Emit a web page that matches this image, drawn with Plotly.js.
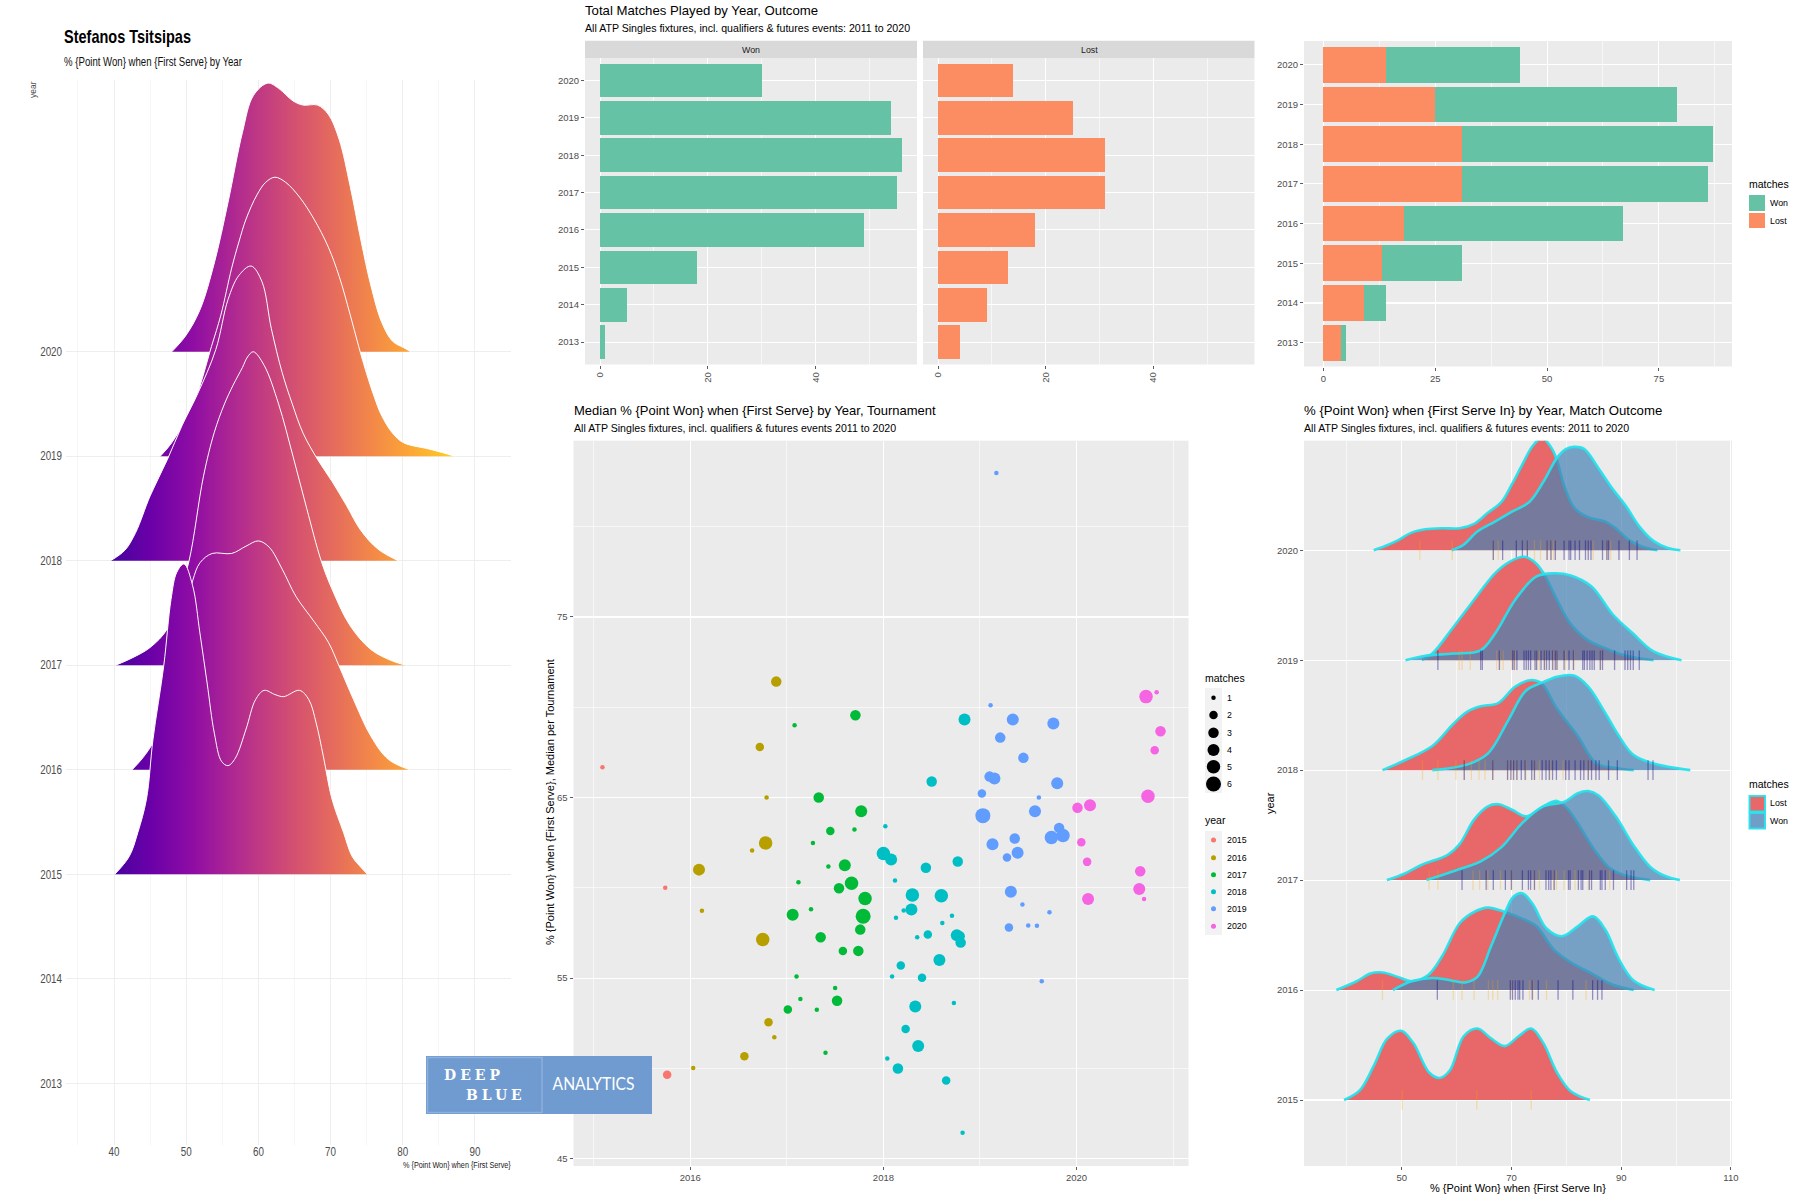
<!DOCTYPE html>
<html><head><meta charset="utf-8">
<script src="https://cdn.plot.ly/plotly-3.0.1.min.js"></script>
<style>html,body{margin:0;padding:0;background:#fff}</style></head>
<body><div id="chart" style="width:1800px;height:1200px"></div>
<script>
// ---------- bars ----------
const years=[2013,2014,2015,2016,2017,2018,2019,2020];
const wonMatches=[1,5,18,49,55,56,54,30];
const lostMatches=[4,9,13,18,31,31,25,14];

// ---------- ridgeline panel A: x, height above baseline (year units) ----------
const a2020x=[48,49.9,51.9,53.9,55.8,57.8,59.3,61.3,62.8,64.8,66.2,68.2,69.7,71.2,72.7,74.2,75.6,77.1,78.6,80.1,81.1];
const a2020h=[0,.15,.40,.85,1.43,2.10,2.45,2.57,2.52,2.40,2.36,2.36,2.27,2.03,1.59,1.07,.63,.28,.10,.04,0];
const a2019x=[46.4,48,51,53.5,54.8,56.3,57.3,58.3,59.8,61,62.3,63.8,65.7,67.7,69.7,71.2,72.7,73.9,75,76.1,77,78.6,80.1,83.6,85.5,87.2];
const a2019h=[0,.13,.5,1.05,1.35,1.8,2.05,2.27,2.5,2.62,2.67,2.62,2.48,2.27,2.0,1.72,1.36,1.05,.79,.56,.40,.22,.13,.07,.035,0];
const a2018x=[39.5,41.5,43,45,47.4,49.4,51.6,54.1,55.8,57.3,59,60.5,61.8,63.3,64.7,66.2,68.2,70.2,72.2,74.2,76.6,79.4];
const a2018h=[0,.1,.27,.62,.97,1.29,1.6,2.02,2.5,2.73,2.82,2.67,2.22,1.8,1.5,1.22,.97,.76,.53,.29,.11,0];
const a2017x=[40.2,42.5,45,47.4,48.9,50.4,52.4,53.9,55.3,56.5,57.8,58.5,59.3,60.8,62.8,64.8,66.7,68.7,70.2,72.7,75.6,78.6,80.5];
const a2017h=[0,.07,.17,.35,.66,1.0,1.81,2.23,2.5,2.68,2.85,2.95,3.0,2.87,2.5,2.0,1.5,1.0,.73,.38,.15,.04,0];
const a2016x=[42.5,44,45.4,47,48.5,49.8,50.9,51.9,53.6,56.3,58.3,60,61.5,63.3,65.2,67.7,69.7,71.2,73.2,75.6,78,81];
const a2016h=[0,.115,.26,.55,.95,1.5,1.81,1.98,2.07,2.07,2.14,2.19,2.13,1.92,1.66,1.42,1.22,.99,.67,.32,.1,0];
const a2015x=[40.1,42.1,43.3,44.5,45.4,46.9,47.9,48.7,49.7,50.9,51.9,52.9,53.9,54.9,55.8,56.8,58.3,59.6,60.8,62.3,63.5,65.7,67,68,69,70.2,71.8,73,74.3,75.1];
const a2015h=[0,.17,.40,.72,1.29,2.0,2.63,2.89,2.97,2.76,2.31,1.83,1.35,1.08,1.04,1.11,1.39,1.67,1.76,1.72,1.70,1.76,1.67,1.45,1.13,.72,.40,.17,.06,0];
const plasma=[[0,'#0d0887'],[.1,'#41049d'],[.2,'#6a00a8'],[.3,'#8f0da4'],[.4,'#b12a90'],[.5,'#cc4778'],[.6,'#e16462'],[.7,'#f1844b'],[.8,'#fca636'],[.9,'#fcce25'],[1,'#f0f921']];

// ---------- scatter panel D ----------
const d2015x=[2015.09,2015.74,2015.76], d2015y=[66.68,60.0,49.65], d2015m=[1,1,2];
const d2016x=[2016.89,2016.72,2016.79,2016.78,2016.64,2016.09,2016.12,2016.75,2016.81,2016.87,2016.56,2016.03];
const d2016y=[71.42,67.80,65.0,62.49,62.07,61.01,58.73,57.14,52.56,51.73,50.68,50.02];
const d2016m=[3,2,1,5,1,4,1,5,2,1,2,1];
const d2017x=[2017.71,2017.08,2017.33,2017.77,2017.45,2017.70,2017.27,2017.60,2017.43,2017.12,2017.67,2017.54,2017.81,2017.25,2017.06,2017.79,2017.76,2017.35,2017.58,2017.74,2017.10,2017.50,2017.14,2017.52,2017.01,2017.31,2017.40];
const d2017y=[69.56,69.0,65.0,64.24,63.15,63.23,62.49,61.25,61.18,60.31,60.26,59.98,59.41,58.82,58.51,58.43,57.69,57.27,56.51,56.51,55.09,54.45,53.84,53.75,53.27,53.25,50.87];
const d2017m=[3,1,3,4,2,1,1,4,1,1,5,3,5,1,4,6,3,3,2,3,1,1,1,3,2,1,1];
const d2018x=[2018.84,2018.50,2018.02,2018.00,2018.08,2018.77,2018.44,2018.12,2018.30,2018.60,2018.29,2018.21,2018.13,2018.71,2018.61,2018.46,2018.35,2018.76,2018.79,2018.80,2018.58,2018.18,2018.09,2018.40,2018.33,2018.73,2018.23,2018.36,2018.04,2018.15,2018.65,2018.82];
const d2018y=[69.32,65.89,63.41,61.90,61.57,61.46,61.11,60.41,59.61,59.56,58.80,58.75,58.34,58.45,58.06,57.42,57.27,57.38,57.32,56.97,56.0,55.70,55.09,55.02,53.43,53.62,52.18,51.24,50.55,50.0,49.34,46.44];
const d2018m=[4,3,1,5,4,3,3,1,5,5,4,1,1,1,1,2,1,4,3,3,4,2,1,2,4,1,2,4,1,3,2,1];
const d2019x=[2019.17,2019.11,2019.34,2019.76,2019.21,2019.45,2019.10,2019.15,2019.80,2019.02,2019.61,2019.03,2019.57,2019.82,2019.86,2019.74,2019.36,2019.13,2019.39,2019.28,2019.32,2019.44,2019.72,2019.30,2019.50,2019.59,2019.64];
const d2019y=[82.97,70.11,69.32,69.10,68.32,67.20,66.16,66.05,65.79,65.22,65.0,64.0,64.24,63.32,62.90,62.79,62.73,62.42,61.94,61.68,59.78,59.08,58.65,57.80,57.91,57.90,54.83];
const d2019m=[1,1,4,4,3,3,3,4,4,2,1,6,4,3,5,5,3,4,4,2,4,1,1,2,1,1,1];
const d2020x=[2020.72,2020.83,2020.87,2020.81,2020.74,2020.14,2020.01,2020.05,2020.11,2020.66,2020.65,2020.12,2020.70];
const d2020y=[70.59,70.83,68.67,67.62,65.07,64.58,64.43,62.53,61.44,60.92,59.94,59.39,59.39];
const d2020m=[5,1,3,2,5,4,3,2,2,3,4,4,1];
const matchSizes=[0,4.5,8.5,10.5,12,13.5,15];
const yearColors=['#F8766D','#B79F00','#00BA38','#00BFC4','#619CFF','#F564E3'];

// ---------- ridgeline panel E ----------
const eL2020x=[44.9,47.1,49.3,51.8,54.3,57.5,60.6,63.2,65.7,68.2,70.1,72,73.9,75.6,77.3,78.3,79.6,81.4,84,87.1,89,91.5,94,96.6];
const eL2020h=[0,.04,.09,.16,.19,.20,.20,.24,.34,.44,.60,.78,.95,1.02,.93,.82,.59,.39,.30,.26,.20,.09,.03,0];
const eW2020x=[59.1,61.3,63.8,67,70.1,73.3,75.8,78.3,79.9,81.4,83.3,85.8,88.4,90.9,93.4,96,98.5,100.8];
const eW2020h=[0,.05,.17,.26,.35,.44,.62,.84,.92,.94,.92,.75,.56,.40,.21,.08,.02,0];
const eL2019x=[53.7,55.6,59.4,63.2,67,69.5,72.3,74.5,76.1,78.3,80.8,84,87.1,90.9,95.9];
const eL2019h=[0,.06,.30,.55,.79,.89,.94,.88,.77,.55,.33,.18,.11,.04,0];
const eW2019x=[50.7,54.3,59.4,64.4,67,70.7,74.5,77.7,80.8,84.6,88.4,92.2,95.9,101];
const eW2019h=[0,.04,.06,.09,.24,.55,.76,.79,.77,.67,.42,.24,.08,0];
const eL2018x=[46.5,50.6,55.6,59.4,61.9,64.4,67.6,70.7,73.6,75.5,78.3,82.1,85.5,89,92.3];
const eL2018h=[0,.09,.22,.42,.53,.58,.61,.76,.82,.79,.56,.31,.06,.02,0];
const eW2018x=[55.6,61.9,65.7,69.5,72.6,75.8,78.3,81.4,84,87.1,89.6,92.2,95.9,102.6];
const eW2018h=[0,.05,.15,.46,.72,.80,.85,.86,.76,.52,.31,.14,.06,0];
const eL2017x=[47.3,50.6,53.7,58.4,60.6,63.2,65.7,67.6,70.1,72.7,75.8,78.3,80.2,82.7,85.2,87.7,90.3,95.3];
const eL2017h=[0,.06,.14,.23,.33,.55,.67,.69,.64,.58,.67,.72,.65,.47,.27,.12,.05,0];
const eW2017x=[54.5,60,64.4,68.2,72,75.8,79.6,82.1,84,85.9,89,92.2,95.3,97.9,100.7];
const eW2017h=[0,.09,.17,.30,.52,.67,.71,.79,.81,.77,.58,.32,.12,.04,0];
const eL2016x=[38.1,41.8,44.3,46.5,49.3,51.8,54.9,57.4,60.6,63.2,65.7,68.8,72,74.6,77.7,80.9,84.7,88.4,92.3];
const eL2016h=[0,.08,.15,.16,.12,.08,.14,.31,.61,.71,.75,.71,.65,.58,.37,.25,.15,.05,0];
const eW2016x=[48.4,51.8,55.6,58.8,61.6,63.8,66.3,68.8,70.4,72,73.9,76.4,79.2,82.1,84.9,87.1,89.6,92.2,96.1];
const eW2016h=[0,.08,.11,.09,.07,.12,.40,.70,.85,.88,.78,.56,.49,.58,.67,.55,.28,.09,0];
const eL2015x=[39.5,42.4,44.9,47.4,49.9,52.1,55,56.9,58.8,61.3,63.8,66.3,68.8,71.3,73.6,75.8,78.3,80.8,84.3];
const eL2015h=[0,.09,.31,.56,.63,.52,.25,.20,.27,.58,.65,.56,.49,.58,.65,.52,.25,.08,0];

// rug values
const rW2020=[66.7,68.4,70.9,72,72.9,76.5,77.2,78,79.6,80.5,80.8,81.6,82.4,83.5,84,84.5,86.6,87.4,87.7,89.6,91.5,92.9];
const rL2020=[53.3,59.2,66.7,67.6,72.9,74.2,75.3,76.5,77.3,77.7,84.9,87.4,88.1];
const rW2019=[56.6,64.4,64.7,67.8,70.2,70.5,71,72.3,72.7,73.1,73.5,74.3,74.6,75.4,76,76.4,76.9,77.5,78,78.3,79.6,80.5,81.3,83,83.3,83.8,84.3,84.7,85.1,86.2,86.6,88.8,90.7,91.2,91.7,92.2,93.3];
const rL2019=[60.5,61,62.5,67.3,67.9,68.5,70.1,70.7,74.5,75.1,76.1,77.7,78.3,79.9,81.4,86.2];
const rW2018=[61.4,66.6,69.3,69.9,70.4,71,71.8,72.5,73.7,74.2,75.6,76.3,76.9,77.5,78.2,79.9,80.5,81.6,82.6,83.2,84,84.6,85.4,86,87.7,89.3,94.9,95.8];
const rL2018=[53.8,56.6,59.9,61.4,62.7,64.1,65.2,66.6,69.3,70.1,71,72.6,74.2,75.1,77,79.4,84];
const rW2017=[61,65.4,66.7,68.9,70,72,73.1,73.5,74.2,76.3,76.8,77.2,77.8,80.4,80.7,82.2,82.7,83,84.2,84.6,86.2,86.5,87.1,88.6,91,91.8,92.3];
const rL2017=[55,56.6,63,64.2,65.7,68,70,74.2,75.1,77.7,78.2,79.6,81.6,84,87.9];
const rW2016=[56.5,69.8,70.2,70.7,71.2,71.5,72.1,73.8,74.9,78.5,81.2,84.8,85.7,86.5];
const rL2016=[46.5,59.4,61,63.2,65.8,66.6,67.5,70.1,73.3,73.9,76.4,83.6];
const rL2015=[50.1,63.7,73.6];

// ---------- helpers ----------
const W=1800,H=1200;
const FN='Liberation Sans', GREY='#4D4D4D';
const px=x=>x/W, py=y=>1-y/H;
const domX=(a,b)=>[a/W,b/W], domY=(t,b)=>[1-b/H,1-t/H];
const won='#66C2A5', lost='#FC8D62';
const traces=[];
function gg(extra){return Object.assign({showgrid:true,gridcolor:'#FFFFFF',gridwidth:1.1,zeroline:false,showline:false,
  ticks:'outside',ticklen:3,tickwidth:.8,tickcolor:'#333333',tickfont:{family:FN,size:9.5,color:GREY},fixedrange:true},extra);}
function minor(vals,col){return {tickmode:'array',tickvals:vals,showgrid:true,gridcolor:col||'#FFFFFF',gridwidth:.6,ticks:''};}

function ridgeA(x,h,yr){traces.push({type:'scatter',mode:'lines',xaxis:'x',yaxis:'y',x:x,y:h.map(v=>yr+v),
  line:{color:'#FFFFFF',width:1,shape:'spline',smoothing:1},fill:'toself',
  fillgradient:{type:'horizontal',colorscale:plasma,start:33,stop:93},hoverinfo:'skip'});}
[[a2020x,a2020h,2020],[a2019x,a2019h,2019],[a2018x,a2018h,2018],[a2017x,a2017h,2017],[a2016x,a2016h,2016],[a2015x,a2015h,2015]].forEach(r=>ridgeA(...r));

traces.push({type:'bar',orientation:'h',x:wonMatches,y:years,width:.9,xaxis:'x2',yaxis:'y2',marker:{color:won},name:'Won'});
traces.push({type:'bar',orientation:'h',x:lostMatches,y:years,width:.9,xaxis:'x3',yaxis:'y3',marker:{color:lost},name:'Lost'});
traces.push({type:'bar',orientation:'h',x:lostMatches,y:years,width:.9,xaxis:'x4',yaxis:'y4',marker:{color:lost},name:'Lost'});
traces.push({type:'bar',orientation:'h',x:wonMatches,y:years,width:.9,xaxis:'x4',yaxis:'y4',marker:{color:won},name:'Won'});

[[d2015x,d2015y,d2015m],[d2016x,d2016y,d2016m],[d2017x,d2017y,d2017m],[d2018x,d2018y,d2018m],[d2019x,d2019y,d2019m],[d2020x,d2020y,d2020m]].forEach((s,i)=>{
  traces.push({type:'scatter',mode:'markers',xaxis:'x5',yaxis:'y5',x:s[0],y:s[1],name:String(2015+i),
    marker:{color:yearColors[i],opacity:1,size:s[2].map(m=>matchSizes[m]),line:{width:0}}});
});

const CY='rgba(38,226,236,0.95)';
function ridgeE(x,h,yr,col){traces.push({type:'scatter',mode:'lines',xaxis:'x6',yaxis:'y6',x:x,y:h.map(v=>yr+v),
  line:{color:CY,width:2.6,shape:'spline',smoothing:1},fill:'toself',fillcolor:col});}
const LF='rgba(232,104,106,1)', WF='rgba(70,130,180,0.7)';
function rug(v,yr,col){traces.push({type:'scatter',mode:'markers',xaxis:'x6',yaxis:'y6',x:v,y:v.map(()=>yr),
  marker:{symbol:'line-ns',opacity:1,size:14,line:{color:col,width:1.3},color:col}});}
const RW='rgba(20,10,130,0.42)', RL='rgba(255,165,0,0.28)';
[[eL2020x,eL2020h,eW2020x,eW2020h,2020,rL2020,rW2020],[eL2019x,eL2019h,eW2019x,eW2019h,2019,rL2019,rW2019],
 [eL2018x,eL2018h,eW2018x,eW2018h,2018,rL2018,rW2018],[eL2017x,eL2017h,eW2017x,eW2017h,2017,rL2017,rW2017],
 [eL2016x,eL2016h,eW2016x,eW2016h,2016,rL2016,rW2016]].forEach(r=>{
  ridgeE(r[0],r[1],r[4],LF); ridgeE(r[2],r[3],r[4],WF); rug(r[5],r[4],RL); rug(r[6],r[4],RW);
});
ridgeE(eL2015x,eL2015h,2015,LF); rug(rL2015,2015,RL);

// ---------- annotations / shapes ----------
const ann=[], shapes=[];
function txt(text,x,y,size,opt){ann.push(Object.assign({text:text,xref:'paper',yref:'paper',x:px(x),y:py(y),showarrow:false,borderpad:0,borderwidth:0,
  xanchor:'left',yanchor:'middle',font:{family:FN,size:size,color:'#000000'}},opt||{}));}
function rect(x0,y0,x1,y1,fill,line,layer){shapes.push({type:'rect',xref:'paper',yref:'paper',x0:px(x0),x1:px(x1),y0:py(y0),y1:py(y1),
  fillcolor:fill,line:line||{width:0},layer:layer||'below'});}
function dot(cx,cy,d,col){shapes.push({type:'circle',xref:'paper',yref:'paper',x0:px(cx-d/2),x1:px(cx+d/2),y0:py(cy+d/2),y1:py(cy-d/2),fillcolor:col,line:{width:0},layer:'above'});}

// panel A
rect(40,60,530,1160,'#FFFFFF');
txt('<b>Stefanos Tsitsipas</b>',64,37,18);
txt('% {Point Won} when {First Serve} by Year',64,62,12.5,{font:{family:FN,size:12.5,color:'#111'}});
txt('year',33,90,8.5,{textangle:-90,xanchor:'center',font:{family:FN,size:8.5,color:GREY}});
txt('% {Point Won} when {First Serve}',511,1165,9,{xanchor:'right',font:{family:FN,size:9,color:'#222'}});
// panel B
txt('Total Matches Played by Year, Outcome',585,10.7,13.2);
txt('All ATP Singles fixtures, incl. qualifiers &amp; futures events: 2011 to 2020',585,28.3,10.6);
rect(585,40.7,917,58,'#D9D9D9'); rect(923,40.7,1254.5,58,'#D9D9D9');
txt('Won',751,49.5,8.8,{xanchor:'center',font:{family:FN,size:8.8,color:'#1A1A1A'}});
txt('Lost',1089,49.5,8.8,{xanchor:'center',font:{family:FN,size:8.8,color:'#1A1A1A'}});
// panel C legend
txt('matches',1749,184,10.5);
rect(1749,195,1765,211,won); rect(1749,213,1765,228,lost);
txt('Won',1770,203,8.8); txt('Lost',1770,220.7,8.8);
// panel D
txt('Median % {Point Won} when {First Serve} by Year, Tournament',573.5,410.7,13);
txt('All ATP Singles fixtures, incl. qualifiers &amp; futures events 2011 to 2020',573.5,428.3,10.6);
txt('% {Point Won} when {First Serve}, Median per Tournament',550,802,11,{textangle:-90,xanchor:'center'});
txt('matches',1205,678,10.5);
rect(1205,688,1222,793,'#F2F2F2');
[1,2,3,4,5,6].forEach((m,i)=>{const y=[697.7,715,732.7,750,766.7,784][i]; dot(1213.5,y,matchSizes[m],'#000000'); txt(String(m),1227,y,8.8);});
txt('year',1205,820,10.5);
rect(1205,831,1222,935,'#F2F2F2');
[0,1,2,3,4,5].forEach(i=>{const y=[840,857.7,874.7,891.7,908.7,926.3][i]; dot(1213.5,y,5,yearColors[i]); txt(String(2015+i),1227,y,8.8);});
// panel E
txt('% {Point Won} when {First Serve In} by Year, Match Outcome',1304,410.7,13.2);
txt('All ATP Singles fixtures, incl. qualifiers &amp; futures events: 2011 to 2020',1304,428.3,10.6);
txt('year',1270,803,11,{textangle:-90,xanchor:'center'});
txt('% {Point Won} when {First Serve In}',1518,1188,11,{xanchor:'center'});
txt('matches',1749,784,10.5);
rect(1749.5,796,1765,811.5,LF,{color:CY,width:2},'above'); rect(1749.5,813,1765,828.5,'rgba(112,158,198,1)',{color:CY,width:2},'above');
txt('Lost',1770,803.3,8.8); txt('Won',1770,820.7,8.8);
// logo
rect(426,1056,652,1114,'#6F9BD0',{width:0},'above');
rect(427.5,1057.5,542,1112.5,'rgba(0,0,0,0)',{color:'#8DB0DC',width:1.5},'above');
const logoFont={family:'DejaVu Serif',size:14,color:'#FFFFFF'};
txt('<b>DEEP</b>',474,1075,14,{xanchor:'center',font:logoFont});
txt('<b>BLUE</b>',495.5,1095,14,{xanchor:'center',font:logoFont});
txt('ANALYTICS',593,1083,17,{xanchor:'center',font:{family:'Lato',size:17,color:'#FFFFFF'}});

// ---------- layout ----------
const yearTicks=years, yearText=years.map(String);
const layout={width:W,height:H,margin:{l:0,r:0,t:0,b:0,pad:0},paper_bgcolor:'#FFFFFF',plot_bgcolor:'#EBEBEB',
  showlegend:false,hovermode:false,barmode:'stack',font:{family:FN},annotations:ann,shapes:shapes,
  xaxis:gg({domain:domX(66,511),anchor:'y',range:[33.35,95],tickvals:[40,50,60,70,80,90],ticks:'',gridcolor:'#EAEAEA',gridwidth:.8,
    tickfont:{family:FN,size:12,color:GREY},minor:minor([35,45,55,65,75,85],'#F0F0F0')}),
  yaxis:gg({domain:domY(80,1145),anchor:'x',range:[2012.41,2022.6],tickvals:yearTicks,ticktext:yearText,ticks:'',gridcolor:'#EAEAEA',gridwidth:.8,
    tickfont:{family:FN,size:12,color:GREY}}),
  xaxis2:gg({domain:domX(585,917),anchor:'y2',range:[-2.8,58.8],tickvals:[0,20,40],tickangle:-90,minor:minor([10,30,50])}),
  yaxis2:gg({domain:domY(58,364.5),anchor:'x2',range:[2012.4,2020.6],tickvals:yearTicks,ticktext:yearText}),
  xaxis3:gg({domain:domX(923,1254.5),anchor:'y3',range:[-2.8,58.8],tickvals:[0,20,40],tickangle:-90,minor:minor([10,30,50])}),
  yaxis3:gg({domain:domY(58,364.5),anchor:'x3',range:[2012.4,2020.6],tickvals:yearTicks,showticklabels:false,ticks:''}),
  xaxis4:gg({domain:domX(1304,1732),anchor:'y4',range:[-4.35,91.35],tickvals:[0,25,50,75],minor:minor([12.5,37.5,62.5,87.5])}),
  yaxis4:gg({domain:domY(41,366.5),anchor:'x4',range:[2012.4,2020.6],tickvals:yearTicks,ticktext:yearText}),
  xaxis5:gg({domain:domX(573.5,1188.5),anchor:'y5',range:[2014.79,2021.16],tickvals:[2016,2018,2020],minor:minor([2015,2017,2019,2021])}),
  yaxis5:gg({domain:domY(440.7,1166),anchor:'x5',range:[44.6,84.76],tickvals:[45,55,65,75],minor:minor([50,60,70,80])}),
  xaxis6:gg({domain:domX(1304,1732),anchor:'y6',range:[32.2,110.2],tickvals:[50,70,90,110],minor:minor([40,60,80,100])}),
  yaxis6:gg({domain:domY(440.7,1166),anchor:'x6',range:[2014.4,2020.996],tickvals:[2015,2016,2017,2018,2019,2020],ticktext:['2015','2016','2017','2018','2019','2020']})
};
function squeeze(t,s,anchor,dy){
  const b=t.getBBox(), cx=b.x+b.width/2, shift=(1-s)*b.width/2;
  const dx=anchor==='l'?-shift:anchor==='r'?shift:0;
  const old=t.getAttribute('transform')||'';
  t.setAttribute('transform',`translate(${dx} ${dy||0}) ${old} translate(${cx} 0) scale(${s} 1) translate(${-cx} 0)`);
}
function nudge(sel,dx){document.querySelectorAll(sel).forEach(t=>t.setAttribute('transform',`translate(${dx} 0) `+(t.getAttribute('transform')||'')));}
Plotly.newPlot('chart',traces,layout,{staticPlot:true,displayModeBar:false}).then(()=>{
  const fits={'Stefanos Tsitsipas':[127,'l'],'% {Point Won} when {First Serve} by Year':[178,'l'],
    '% {Point Won} when {First Serve}':[108,'r'],'ANALYTICS':[82,'c']};
  document.querySelectorAll('.annotation-text').forEach(t=>{
    const c=t.textContent;
    if(c==='DEEP'||c==='BLUE'){t.style.letterSpacing='4px';}
    if(fits[c]){squeeze(t,fits[c][0]/t.getBBox().width,fits[c][1]);}
  });
  document.querySelectorAll('.subplot.xy .xaxislayer-above .xtick text').forEach(t=>squeeze(t,.82,'c',-2));
  document.querySelectorAll('.subplot.xy .yaxislayer-above .ytick text').forEach(t=>squeeze(t,.82,'r'));
  nudge('.subplot.xy .yaxislayer-above .ytick text',-3);
  nudge('.subplot.x2y2 .xaxislayer-above .xtick text',3);
  nudge('.subplot.x3y3 .xaxislayer-above .xtick text',3);
  nudge('.subplot.x4y4 .xaxislayer-above .xtick text',-5);
  nudge('.subplot.x4y4 .yaxislayer-above .ytick text',2);
  nudge('.subplot.x6y6 .yaxislayer-above .ytick text',2);
});
</script></body></html>
